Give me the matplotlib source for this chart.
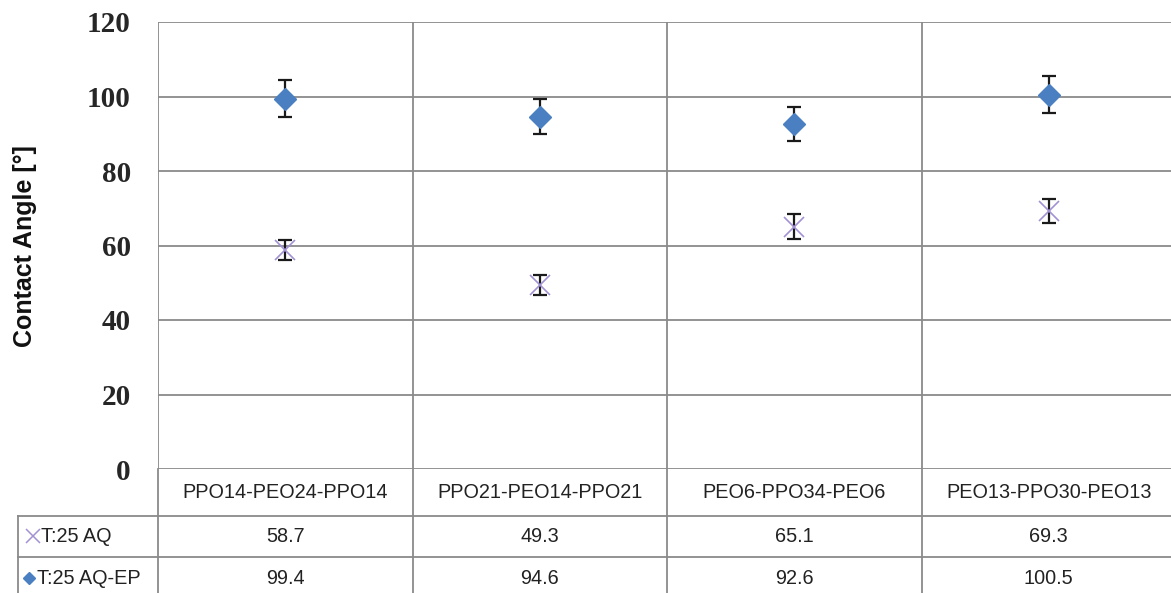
import matplotlib
matplotlib.use("Agg")
import matplotlib.pyplot as plt
import matplotlib.transforms as mtransforms

# Data
categories = ["PPO14-PEO24-PPO14", "PPO21-PEO14-PPO21", "PEO6-PPO34-PEO6", "PEO13-PPO30-PEO13"]
series_names = ["T:25 AQ", "T:25 AQ-EP"]
aq_values = [58.7, 49.3, 65.1, 69.3]
aq_errors = [2.7, 2.7, 3.3, 3.3]
aqep_values = [99.4, 94.6, 92.6, 100.5]
aqep_errors = [5.0, 4.8, 4.5, 5.0]
y_ticks = [0, 20, 40, 60, 80, 100, 120]

W, H = 1171, 593
fig = plt.figure(figsize=(W / 100, H / 100), dpi=100)
fig.patch.set_facecolor("white")

grid_c = "#8a8a8a"
grid_lw = 1.3
blue = "#4a7fc1"
purple = "#a291d3"

# Plot area (pixel geometry converted to figure fractions)
left_px, right_px, top_px, bottom_px = 158, 1176, 22, 469
ax = fig.add_axes([left_px / W, 1 - bottom_px / H,
                   (right_px - left_px) / W, (bottom_px - top_px) / H])
x = list(range(len(categories)))
ax.set_xlim(-0.5, len(categories) - 0.5)
ax.set_ylim(0, 120)
ax.set_yticks(y_ticks)
ax.set_yticklabels([str(t) for t in y_ticks], family="Liberation Serif",
                   fontsize=21, fontweight="bold", color="#262626")
ax.tick_params(axis="y", length=0, pad=19.5)
ax.set_xticks([])
for s in ax.spines.values():
    s.set_visible(False)
ax.set_axisbelow(True)
for t in y_ticks:
    ax.axhline(t, color=grid_c, lw=grid_lw, zorder=0)
for b in [-0.5, 0.5, 1.5, 2.5]:
    ax.axvline(b, color=grid_c, lw=grid_lw, zorder=0)

fig.text(25 / W, 1 - 246 / H, "Contact Angle [°]", rotation=90,
         family="Liberation Sans", fontsize=18, fontweight="bold",
         color="#111111", ha="center", va="center")

# Series with error bars
ax.errorbar(x, aq_values, yerr=aq_errors, fmt="none", ecolor="#1a1a1a",
            elinewidth=1.6, capsize=5, capthick=1.6, zorder=3)
ax.plot(x, aq_values, linestyle="none", marker="x", markersize=15,
        markeredgewidth=1.2, color=purple, zorder=4)
ax.errorbar(x, aqep_values, yerr=aqep_errors, fmt="none", ecolor="#1a1a1a",
            elinewidth=1.6, capsize=5, capthick=1.6, zorder=3)
ax.plot(x, aqep_values, linestyle="none", marker="D", markersize=11,
        color=blue, markeredgecolor=blue, zorder=4)

# Data table below the plot: x in category units, y in pixels
over = fig.add_axes([0, 0, 1, 1], zorder=-1)
over.set_xlim(0, W)
over.set_ylim(H, 0)
over.axis("off")
over.patch.set_alpha(0)
tr = mtransforms.blended_transform_factory(ax.transData, over.transData)

row_lines = [516, 557]
table_left_px = 18
label_row_y = 493
value_rows_y = [536, 578]

for yy in row_lines:
    over.plot([table_left_px, W + 10], [yy, yy], color=grid_c, lw=grid_lw)
for b in [-0.5, 0.5, 1.5, 2.5]:
    over.plot([b, b], [bottom_px, H + 5], color=grid_c, lw=grid_lw, transform=tr)
over.plot([table_left_px, table_left_px], [row_lines[0], H + 5], color=grid_c, lw=grid_lw)

table_font = dict(family="Liberation Sans", fontsize=14.3, color="#222222",
                  ha="center", va="center")
for i, c in enumerate(categories):
    over.text(i, label_row_y, c, transform=tr, **table_font)
    over.text(i, value_rows_y[0], f"{aq_values[i]:.1f}", transform=tr, **table_font)
    over.text(i, value_rows_y[1], f"{aqep_values[i]:.1f}", transform=tr, **table_font)

# Legend keys in the first column
over.plot([33], [value_rows_y[0]], marker="x", markersize=10, markeredgewidth=1.1,
          color=purple, linestyle="none")
over.plot([29], [value_rows_y[1]], marker="D", markersize=6.5, color=blue,
          linestyle="none")
legend_font = dict(family="Liberation Sans", fontsize=14.3, color="#222222",
                   ha="left", va="center")
over.text(41, value_rows_y[0], series_names[0], **legend_font)
over.text(37, value_rows_y[1], series_names[1], **legend_font)

fig.savefig("out.png", dpi=100, facecolor="white")
